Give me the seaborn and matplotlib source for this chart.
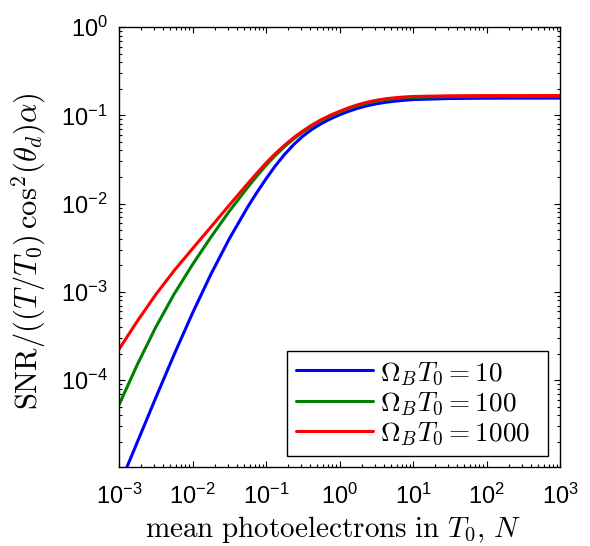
import numpy as np
import pandas as pd
import matplotlib
matplotlib.use("Agg")
import matplotlib.pyplot as plt
import seaborn as sns
from matplotlib.ticker import LogLocator, NullFormatter

# ---- data ----
N = [0.001, 0.00178, 0.00316, 0.00562, 0.01, 0.0178, 0.0316, 0.0562, 0.075, 0.1,
     0.133, 0.178, 0.237, 0.316, 0.422, 0.562, 0.75, 1.0, 1.33, 1.78,
     2.37, 3.16, 4.22, 5.62, 7.5, 10.0, 31.6, 100.0, 1000.0]
snr_10 = [6.31e-6, 2.00e-5, 6.31e-5, 1.95e-4, 5.75e-4, 1.585e-3, 3.98e-3, 9.12e-3, 0.01334, 0.01905,
          0.02655, 0.03589, 0.04645, 0.05794, 0.06934, 0.08035, 0.09099, 0.1012, 0.1110, 0.1202,
          0.1282, 0.1349, 0.1403, 0.1445, 0.1479, 0.1507, 0.1549, 0.1563, 0.1567]
snr_100 = [5.25e-5, 1.51e-4, 3.98e-4, 9.44e-4, 2.04e-3, 4.17e-3, 8.17e-3, 0.01524, 0.02046, 0.02716,
           0.03491, 0.04395, 0.05395, 0.06457, 0.07568, 0.0871, 0.0979, 0.1084, 0.1189, 0.1288,
           0.1374, 0.1445, 0.1503, 0.1545, 0.1579, 0.1600, 0.1629, 0.1637, 0.1641]
snr_1000 = [2.24e-4, 4.68e-4, 9.33e-4, 1.74e-3, 3.09e-3, 5.43e-3, 9.59e-3, 0.0168, 0.02208, 0.0288,
            0.0366, 0.0457, 0.0557, 0.0664, 0.0776, 0.0891, 0.1002, 0.1109, 0.1216, 0.1318,
            0.1406, 0.1479, 0.1538, 0.1578, 0.1612, 0.1633, 0.1663, 0.1671, 0.1675]
series_labels = [r'$\Omega_B T_0 = 10$  ', r'$\Omega_B T_0 = 100$  ', r'$\Omega_B T_0 = 1000$  ']
series_colors = ['#0000ff', '#008000', '#ff0000']
xtick_vals = [1e-3, 1e-2, 1e-1, 1e0, 1e1, 1e2, 1e3]
ytick_vals = [1e-4, 1e-3, 1e-2, 1e-1, 1e0]

df = pd.DataFrame({
    'N': N * 3,
    'SNR': snr_10 + snr_100 + snr_1000,
    'series': [series_labels[0]] * len(N) + [series_labels[1]] * len(N) + [series_labels[2]] * len(N),
})

sns.set_style('ticks')
plt.rcParams['font.family'] = ['Liberation Sans', 'DejaVu Sans']
plt.rcParams['mathtext.fontset'] = 'cm'
for k in ['text.color', 'axes.labelcolor', 'xtick.color', 'ytick.color', 'axes.edgecolor']:
    plt.rcParams[k] = 'black'

fig = plt.figure(figsize=(5.9, 5.46), dpi=100)
ax = fig.add_axes([119 / 590, 1 - 467 / 546, 441 / 590, 440 / 546])
ax.set_xscale('log')
ax.set_yscale('log')

sns.lineplot(data=df, x='N', y='SNR', hue='series', palette=series_colors,
             hue_order=series_labels, estimator=None, sort=False, lw=2.2, ax=ax)

ax.set_xlim(1e-3, 1e3)
ax.set_ylim(1.04e-5, 1e0)
ax.set_xticks(xtick_vals)
ax.set_yticks(ytick_vals)
ax.xaxis.set_minor_locator(LogLocator(base=10, subs=np.arange(2, 10), numticks=20))
ax.yaxis.set_minor_locator(LogLocator(base=10, subs=np.arange(2, 10), numticks=20))
ax.xaxis.set_minor_formatter(NullFormatter())
ax.yaxis.set_minor_formatter(NullFormatter())
ax.tick_params(which='both', direction='in', top=True, right=True, labelsize=17, width=0.8,
               color='black', labelcolor='black')
ax.tick_params(which='major', length=4.5)
ax.tick_params(axis='x', which='major', pad=12)
ax.tick_params(axis='y', which='major', pad=8)
ax.tick_params(which='minor', length=2.5)
for s in ax.spines.values():
    s.set_linewidth(1.0)
    s.set_color('black')

ax.set_xlabel(r'$\mathrm{mean\ photoelectrons\ in\ }T_0\mathrm{,}\ N$', fontsize=21)
ax.set_ylabel(r'$\mathrm{SNR}/((T/T_0)\,\mathrm{cos}^2(\theta_d)\alpha)$', fontsize=22)
ax.xaxis.set_label_coords((333.5 - 119) / 441, (467 - 514) / 440)
ax.yaxis.set_label_coords((48 - 119) / 441, (467 - 251) / 440)

handles, labels = ax.get_legend_handles_labels()
leg = ax.legend(handles, labels, loc='lower right', bbox_to_anchor=(0.9728, 0.025),
                borderaxespad=0, fontsize=19.6, frameon=True, fancybox=False, framealpha=1,
                edgecolor='black', handlelength=2.85, handletextpad=0.25, labelspacing=0.12,
                borderpad=0.33)
leg.get_frame().set_linewidth(1.0)
for h in leg.get_lines():
    h.set_linewidth(2.2)

fig.savefig('out.png', dpi=100)
